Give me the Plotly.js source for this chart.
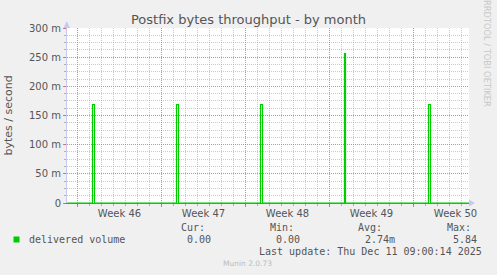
<!DOCTYPE html>
<html>
<head>
<meta charset="utf-8">
<script src="https://cdn.plot.ly/plotly-3.0.1.min.js"></script>
<style>
html,body{margin:0;padding:0;background:#F0F0F0;}
#chart{width:497px;height:275px;}
</style>
</head>
<body>
<div id="chart"></div>
<script>
// ---- data ----
var times = ['2025-11-09 03:00', '2025-11-11 06:00', '2025-11-11 10:00',
             '2025-11-18 06:00', '2025-11-18 10:00',
             '2025-11-25 06:00', '2025-11-25 10:00',
             '2025-12-02 06:00', '2025-12-02 08:00',
             '2025-12-09 06:00', '2025-12-09 10:00',
             '2025-12-12 15:00'];
var deliveredVolume = [0, 0.1685, 0, 0.1685, 0, 0.1685, 0, 0.256, 0, 0.1685, 0, 0];
var weekStarts = ['2025-11-10', '2025-11-17', '2025-11-24', '2025-12-01', '2025-12-08'];
var weekLabels = ['Week 46', 'Week 47', 'Week 48', 'Week 49', 'Week 50'];
var yTickVals = [0, 0.05, 0.1, 0.15, 0.2, 0.25, 0.3];
var yTickText = ['0', '50 m', '100 m', '150 m', '200 m', '250 m', '300 m'];
var xRange = ['2025-11-09 03:00', '2025-12-12 15:00'];
var seriesName = 'delivered volume';
var statHeads = ['Cur:', 'Min:', 'Avg:', 'Max:'];
var statVals = ['0.00', '0.00', '2.74m', '5.84'];
var titleText = 'Postfix bytes throughput - by month';
var yTitle = 'bytes / second';
var lastUpdate = 'Last update: Thu Dec 11 09:00:14 2025';
var footer = 'Munin 2.0.73';
var sideText = 'RRDTOOL / TOBI OETIKER';

var green = '#00CC00';
var majorGrid = 'rgba(225,90,90,0.55)';
var minorGrid = 'rgba(160,160,160,0.55)';
var axisBlue = '#C8C8F0';
var txt = '#555555';

var traces = [{
  x: times, y: deliveredVolume, type: 'scatter', mode: 'lines',
  line: {color: green, width: 1.2, shape: 'hv'},
  name: seriesName, hoverinfo: 'skip'
}];

var mono = 'DejaVu Sans Mono, monospace';
var sans = 'DejaVu Sans, sans-serif';

function py(pix) { return (203 - pix) / 175; }
function px(pix) { return (pix - 67) / 402; }

var statX = [193, 282, 370, 459];
var valX = [199, 288, 380, 465];
var annotations = [];
for (var i = 0; i < statHeads.length; i++) {
  annotations.push({xref: 'paper', yref: 'paper', x: px(statX[i]), y: py(227.7), xanchor: 'center', yanchor: 'middle',
    text: statHeads[i], showarrow: false, font: {family: mono, size: 10, color: txt}});
  annotations.push({xref: 'paper', yref: 'paper', x: px(valX[i]), y: py(239.7), xanchor: 'center', yanchor: 'middle',
    text: statVals[i], showarrow: false, font: {family: mono, size: 10, color: txt}});
}
annotations.push({xref: 'paper', yref: 'paper', x: px(27), y: py(239.7), xanchor: 'left', yanchor: 'middle',
  text: seriesName, showarrow: false, font: {family: mono, size: 10, color: txt}});
annotations.push({xref: 'paper', yref: 'paper', x: px(484), y: py(251.7), xanchor: 'right', yanchor: 'middle',
  text: lastUpdate, showarrow: false, font: {family: mono, size: 10, color: txt}});
annotations.push({xref: 'paper', yref: 'paper', x: px(247.5), y: py(263.5), xanchor: 'center', yanchor: 'middle',
  text: footer, showarrow: false, font: {family: sans, size: 7.5, color: '#BBBBBB'}});
annotations.push({xref: 'paper', yref: 'paper', x: px(487.5), y: py(53.5), xanchor: 'center', yanchor: 'middle',
  text: sideText, textangle: 90, showarrow: false, font: {family: sans, size: 8.3, color: '#C8C8C8'}});

var shapes = [
  {type: 'rect', xref: 'paper', yref: 'paper', x0: px(13.5), x1: px(19.5), y0: py(242.5), y1: py(236.5),
   fillcolor: green, line: {width: 0}},
  {type: 'path', xref: 'paper', yref: 'paper',
   path: 'M ' + px(63.5) + ' ' + py(28) + ' L ' + px(70) + ' ' + py(28) + ' L ' + px(66.75) + ' ' + py(21) + ' Z',
   fillcolor: axisBlue, line: {width: 0}},
  {type: 'path', xref: 'paper', yref: 'paper',
   path: 'M ' + px(469) + ' ' + py(199.5) + ' L ' + px(469) + ' ' + py(206.5) + ' L ' + px(475) + ' ' + py(203) + ' Z',
   fillcolor: axisBlue, line: {width: 0}}
];

var layout = {
  width: 497, height: 275,
  paper_bgcolor: '#F0F0F0', plot_bgcolor: '#FFFFFF',
  margin: {l: 67, r: 28, t: 28, b: 72, pad: 0},
  showlegend: false,
  title: {text: titleText, x: 248.5 / 497, xref: 'container', xanchor: 'center', y: 1 - 19 / 275, yref: 'container', yanchor: 'middle',
          font: {family: sans, size: 13, color: txt}},
  xaxis: {
    type: 'date', range: xRange, fixedrange: true,
    tickmode: 'array', tickvals: weekStarts, ticktext: weekLabels,
    ticklabelshift: 42, ticklabelstandoff: -2,
    tickfont: {family: sans, size: 10, color: txt},
    ticks: 'outside', ticklen: 3, tickcolor: 'rgba(225,90,90,0.8)', tickwidth: 1,
    showgrid: true, gridcolor: majorGrid, griddash: '1px,1px', gridwidth: 1,
    minor: {dtick: 86400000, tick0: '2025-11-10', showgrid: true, gridcolor: minorGrid, griddash: '1px,1px',
            ticks: 'outside', ticklen: 2, tickcolor: '#B0B0B0'},
    showline: true, linecolor: green, linewidth: 1, mirror: false,
    zeroline: false
  },
  yaxis: {
    range: [0, 0.3], fixedrange: true,
    tickmode: 'array', tickvals: yTickVals, ticktext: yTickText,
    tickfont: {family: sans, size: 10, color: txt},
    ticks: 'outside', ticklen: 3, tickcolor: 'rgba(225,90,90,0.8)', tickwidth: 1,
    showgrid: true, gridcolor: majorGrid, griddash: '1px,1px', gridwidth: 1,
    minor: {dtick: 0.0125, tick0: 0, showgrid: true, gridcolor: minorGrid, griddash: '1px,1px',
            ticks: 'outside', ticklen: 2, tickcolor: '#B0B0B0'},
    showline: true, linecolor: axisBlue, linewidth: 1,
    zeroline: false,
    title: {text: yTitle, standoff: 14, font: {family: sans, size: 11, color: txt}}
  },
  annotations: annotations,
  shapes: shapes
};

Plotly.newPlot('chart', traces, layout, {displayModeBar: false, staticPlot: true});
</script>
</body>
</html>
